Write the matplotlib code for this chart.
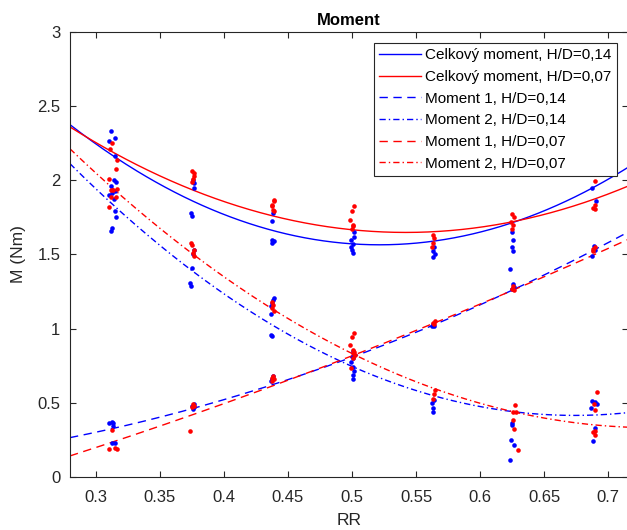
import matplotlib
matplotlib.use('Agg')
import matplotlib.pyplot as plt
import numpy as np

plt.rcParams['font.family'] = ['Liberation Sans', 'DejaVu Sans']

# measured points, H/D = 0,14 (all moments together)
rr_014 = [0.3118, 0.3152, 0.3107, 0.3152, 0.3145, 0.3159, 0.3120, 0.3107, 0.3125, 0.3152,
          0.3145, 0.3152, 0.3159, 0.3125, 0.3118, 0.3107, 0.3125, 0.3138, 0.3132, 0.3125, 0.3152,
          0.3760, 0.3770, 0.3765, 0.3745, 0.3755, 0.3770, 0.3760, 0.3750, 0.3740, 0.3745,
          0.3765, 0.3755, 0.3770, 0.3760,
          0.4385, 0.4380, 0.4375, 0.4390, 0.4380, 0.4390, 0.4385, 0.4375, 0.4365, 0.4370,
          0.4365, 0.4380, 0.4385, 0.4375, 0.4370,
          0.5015, 0.5015, 0.4995, 0.5005, 0.4990, 0.5000, 0.5010, 0.5005, 0.5010, 0.5005,
          0.4995, 0.5010, 0.5015, 0.5010, 0.5005,
          0.5640, 0.5630, 0.5645, 0.5635, 0.5635, 0.5625, 0.5640, 0.5640, 0.5625, 0.5630, 0.5635,
          0.6250, 0.6255, 0.6245, 0.6260, 0.6230, 0.6255, 0.6265, 0.6250, 0.6250, 0.6245,
          0.6243, 0.6263, 0.6232,
          0.6872, 0.6903, 0.6887, 0.6893, 0.6870, 0.6872, 0.6898, 0.6910, 0.6868, 0.6900, 0.6882]
m_014 = [2.33, 2.28, 2.26, 2.16, 2.00, 1.985, 1.96, 1.90, 1.91, 1.925,
         1.87, 1.79, 1.75, 1.68, 1.66, 0.368, 0.375, 0.368, 0.346, 0.233, 0.233,
         2.00, 1.98, 1.95, 1.78, 1.76, 1.53, 1.50, 1.41, 1.31, 1.29,
         0.49, 0.48, 0.47, 0.46,
         1.78, 1.725, 1.60, 1.59, 1.575, 1.205, 1.19, 1.17, 1.15, 1.10,
         0.96, 0.95, 0.68, 0.66, 0.645,
         1.65, 1.62, 1.60, 1.57, 1.55, 1.53, 1.51, 0.85, 0.813, 0.80,
         0.779, 0.745, 0.718, 0.689, 0.66,
         1.55, 1.52, 1.50, 1.48, 1.03, 1.015, 1.02, 0.521, 0.50, 0.465, 0.442,
         1.65, 1.60, 1.55, 1.52, 1.40, 1.30, 1.28, 1.27, 0.364, 0.352,
         0.251, 0.218, 0.117,
         1.947, 1.857, 1.559, 1.53, 1.491, 0.516, 0.51, 0.492, 0.465, 0.334, 0.245]

# measured points, H/D = 0,07
rr_007 = [0.3131, 0.3112, 0.3163, 0.3159, 0.3107, 0.3120, 0.3138, 0.3163, 0.3120, 0.3159,
          0.3107, 0.3128, 0.3107, 0.3150, 0.3163,
          0.3755, 0.3765, 0.3770, 0.3760, 0.3750, 0.3745, 0.3755, 0.3765, 0.3760, 0.3770,
          0.3760, 0.3770, 0.3750, 0.3735,
          0.4393, 0.4390, 0.4380, 0.4373, 0.4385, 0.4393, 0.4380, 0.4385, 0.4375, 0.4390,
          0.4385, 0.4378, 0.4390, 0.4380,
          0.5016, 0.5000, 0.4984, 0.5005, 0.5010, 0.5000, 0.5016, 0.5000, 0.4985, 0.5005,
          0.5015, 0.5010, 0.5020, 0.5012, 0.4995,
          0.5630, 0.5640, 0.5635, 0.5625, 0.5645, 0.5630, 0.5640, 0.5648, 0.5640, 0.5630,
          0.6250, 0.6262, 0.6240, 0.6255, 0.6248, 0.6260, 0.6250, 0.6265, 0.6275, 0.6260,
          0.6278, 0.6260, 0.6268, 0.6295,
          0.6893, 0.6893, 0.6880, 0.6900, 0.6895, 0.6880, 0.6883, 0.6910, 0.6890, 0.6893,
          0.6880, 0.6893, 0.6900]
m_007 = [2.25, 2.21, 2.138, 2.078, 2.01, 1.936, 1.936, 1.94, 1.884, 1.884,
         1.819, 0.321, 0.19, 0.20, 0.19,
         2.06, 2.05, 2.03, 2.01, 1.99, 1.58, 1.56, 1.53, 1.51, 1.49,
         0.49, 0.48, 0.47, 0.31,
         1.868, 1.857, 1.835, 1.824, 1.797, 1.79, 1.18, 1.16, 1.14, 1.12,
         0.68, 0.67, 0.66, 0.65,
         1.828, 1.795, 1.729, 1.70, 1.689, 1.671, 0.97, 0.941, 0.891, 0.86,
         0.846, 0.835, 0.82, 0.802, 0.734,
         1.63, 1.61, 1.58, 1.55, 1.049, 1.04, 1.03, 0.588, 0.56, 0.526,
         1.77, 1.75, 1.72, 1.70, 1.67, 1.29, 1.27, 1.26, 0.487, 0.442,
         0.438, 0.386, 0.328, 0.184,
         1.992, 1.83, 1.81, 1.806, 1.55, 1.535, 1.52, 0.573, 0.49, 0.453,
         0.303, 0.31, 0.287]

# quadratic fits M = a*RR^2 + b*RR + c
fit_total_014 = [13.86, -14.456, 5.334]
fit_total_007 = [10.35, -11.217, 4.687]
fit_m1_014 = [3.324, -0.1326, 0.0435]
fit_m2_014 = [10.92, -14.717, 5.375]
fit_m1_007 = [1.32, 2.0313, -0.5283]
fit_m2_007 = [9.087, -13.347, 5.235]

labels = ['Celkový moment, H/D=0,14', 'Celkový moment, H/D=0,07',
          'Moment 1, H/D=0,14', 'Moment 2, H/D=0,14',
          'Moment 1, H/D=0,07', 'Moment 2, H/D=0,07']

xmin, xmax = 0.28, 0.715
rr = np.linspace(xmin, xmax, 300)

fig = plt.figure(figsize=(6.27, 5.30), dpi=100)
ax = fig.add_axes([70 / 627, 52.7 / 530, 557.5 / 627, 445.8 / 530])

dash = (6, 4)
dashdot = (4.5, 2.2, 1, 2.2)
ax.plot(rr, np.polyval(fit_total_014, rr), color='b', lw=1.0, label=labels[0])
ax.plot(rr, np.polyval(fit_total_007, rr), color='r', lw=1.0, label=labels[1])
ax.plot(rr, np.polyval(fit_m1_014, rr), color='b', lw=1.0, dashes=dash, label=labels[2])
ax.plot(rr, np.polyval(fit_m2_014, rr), color='b', lw=1.0, dashes=dashdot, label=labels[3])
ax.plot(rr, np.polyval(fit_m1_007, rr), color='r', lw=1.0, dashes=dash, label=labels[4])
ax.plot(rr, np.polyval(fit_m2_007, rr), color='r', lw=1.0, dashes=dashdot, label=labels[5])

ax.plot(rr_014, m_014, 'o', color='b', ms=3.3, mec='none')
ax.plot(rr_007, m_007, 'o', color='r', ms=3.3, mec='none')

ax.set_xlim(xmin, xmax)
ax.set_ylim(0, 3)
ax.set_xticks(np.arange(0.3, 0.701, 0.05))
ax.set_xticklabels(['0.3', '0.35', '0.4', '0.45', '0.5', '0.55', '0.6', '0.65', '0.7'])
ax.set_yticks([0, 0.5, 1, 1.5, 2, 2.5, 3])
ax.set_yticklabels(['0', '0.5', '1', '1.5', '2', '2.5', '3'])

gray = '#262626'
for s in ax.spines.values():
    s.set_color(gray)
    s.set_linewidth(0.8)
ax.tick_params(direction='in', length=4.5, width=0.8, color=gray, labelcolor=gray,
               labelsize=12, top=True, right=True)
ax.tick_params(axis='x', pad=9)
ax.tick_params(axis='y', pad=7)

ax.set_xlabel('RR', fontsize=12.5, color=gray, labelpad=6)
ax.set_ylabel('M (Nm)', fontsize=12.5, color=gray, labelpad=8)
ax.set_title('Moment', fontsize=12, fontweight='bold', color='black', pad=5)

leg = ax.legend(loc='upper right', bbox_to_anchor=(617 / 627, 1 - 43 / 530),
                bbox_transform=fig.transFigure, fontsize=11, handlelength=2.7,
                handletextpad=0.3, labelspacing=0.5, borderpad=0.35,
                fancybox=False, framealpha=1, borderaxespad=0)
leg.get_frame().set_edgecolor(gray)
leg.get_frame().set_linewidth(0.8)

fig.savefig('out.png', dpi=100)
